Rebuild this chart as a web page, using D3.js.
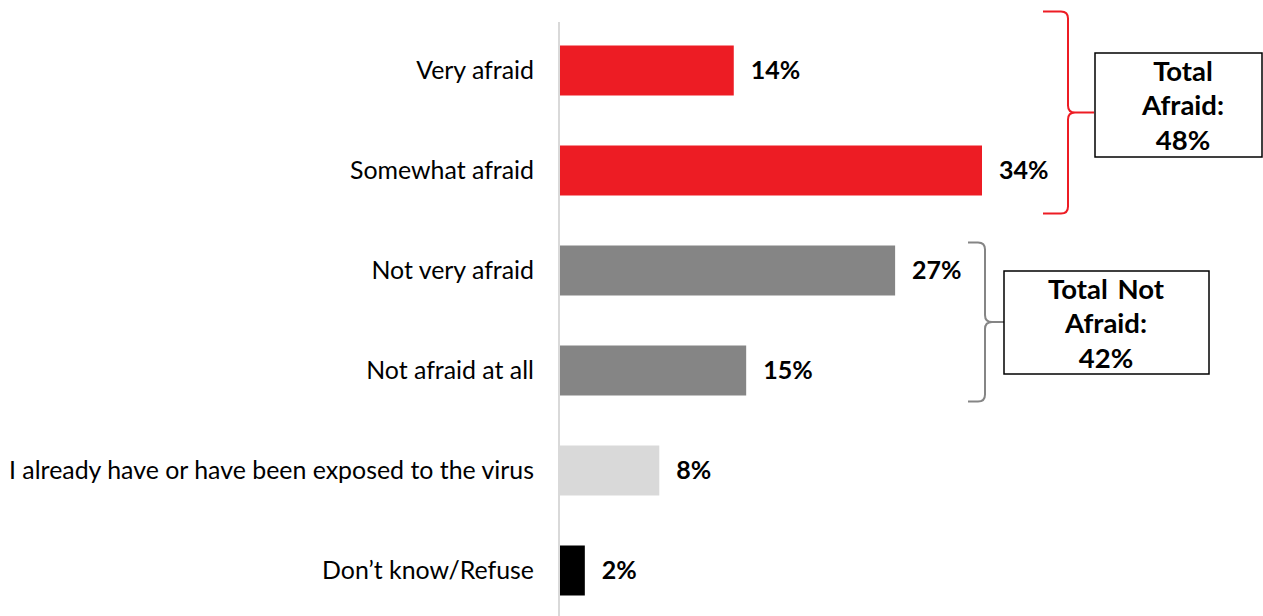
<!DOCTYPE html>
<html><head><meta charset="utf-8">
<script src="https://cdn.jsdelivr.net/npm/d3@7"></script>
<style>
body{margin:0;background:#fff;}
svg{display:block;font-family:Lato,"Open Sans",sans-serif;}
</style></head>
<body><svg id="chart" width="1263" height="616"></svg>
<script>
const categories = ["Very afraid","Somewhat afraid","Not very afraid","Not afraid at all","I already have or have been exposed to the virus","Don\u2019t know/Refuse"];
const values = [14,34,27,15,8,2];
const colors = ["#ed1c24","#ed1c24","#858585","#858585","#d9d9d9","#000000"];
const groupLabels = [["Total","Afraid:","48%"],["Total Not","Afraid:","42%"]];

const svg = d3.select("#chart");
const x = d3.scaleLinear().domain([0,34]).range([560,982]);
const y = d3.scaleBand().domain(categories).range([20.5,620.5]).paddingInner(0.5).paddingOuter(0.25);

svg.append("line").attr("x1",559).attr("x2",559).attr("y1",22).attr("y2",616)
  .attr("stroke","#d9d9d9").attr("stroke-width",2);

svg.selectAll("rect.bar").data(values).join("rect").attr("class","bar")
  .attr("x",x(0)).attr("y",(d,i)=>y(categories[i]))
  .attr("width",d=>x(d)-x(0)).attr("height",y.bandwidth())
  .attr("fill",(d,i)=>colors[i]);

svg.selectAll("text.cat").data(categories).join("text").attr("class","cat")
  .attr("x",534).attr("y",d=>y(d)+y.bandwidth()/2).attr("dy","0.35em")
  .attr("text-anchor","end").attr("font-size",24.9).attr("fill","#000").text(d=>d);

svg.selectAll("text.val").data(values).join("text").attr("class","val")
  .attr("x",d=>x(d)+17).attr("y",(d,i)=>y(categories[i])+y.bandwidth()/2).attr("dy","0.35em")
  .attr("font-size",25).attr("font-weight","bold").attr("fill","#000").text(d=>d+"%");

function brace(xl, xv, tip, top, bot, r){
  const mid=(top+bot)/2;
  return `M${xl},${top} L${xv-r},${top} Q${xv},${top} ${xv},${top+r} L${xv},${mid-r} Q${xv},${mid} ${xv+r},${mid} L${tip},${mid}`+
         `M${xl},${bot} L${xv-r},${bot} Q${xv},${bot} ${xv},${bot-r} L${xv},${mid+r} Q${xv},${mid} ${xv+r},${mid}`;
}
const t1 = y(categories[0]) - 34, b1 = y(categories[1]) + y.bandwidth() + 18;
svg.append("path").attr("d",brace(1043,1068,1094,t1,b1,7)).attr("fill","none").attr("stroke","#ed1c24").attr("stroke-width",2);
const t2 = y(categories[2]) - 3, b2 = y(categories[3]) + y.bandwidth() + 6;
svg.append("path").attr("d",brace(968,985,1004,t2,b2,7)).attr("fill","none").attr("stroke","#858585").attr("stroke-width",2);

const boxes=[{x:1095,y:53,w:167,h:104,cx:1183},{x:1004,y:271,w:205,h:103,cx:1106}];
boxes.forEach((b,i)=>{
  svg.append("rect").attr("x",b.x).attr("y",b.y).attr("width",b.w).attr("height",b.h)
    .attr("fill","#fff").attr("stroke","#000").attr("stroke-width",1.5);
  groupLabels[i].forEach((t,j)=>{
    svg.append("text").attr("x",b.cx).attr("y",b.y+18+j*34.5).attr("dy","0.35em")
      .attr("text-anchor","middle").attr("font-size",27.5).attr("font-weight","bold")
      .attr("word-spacing",3).text(t);
  });
});
</script></body></html>
